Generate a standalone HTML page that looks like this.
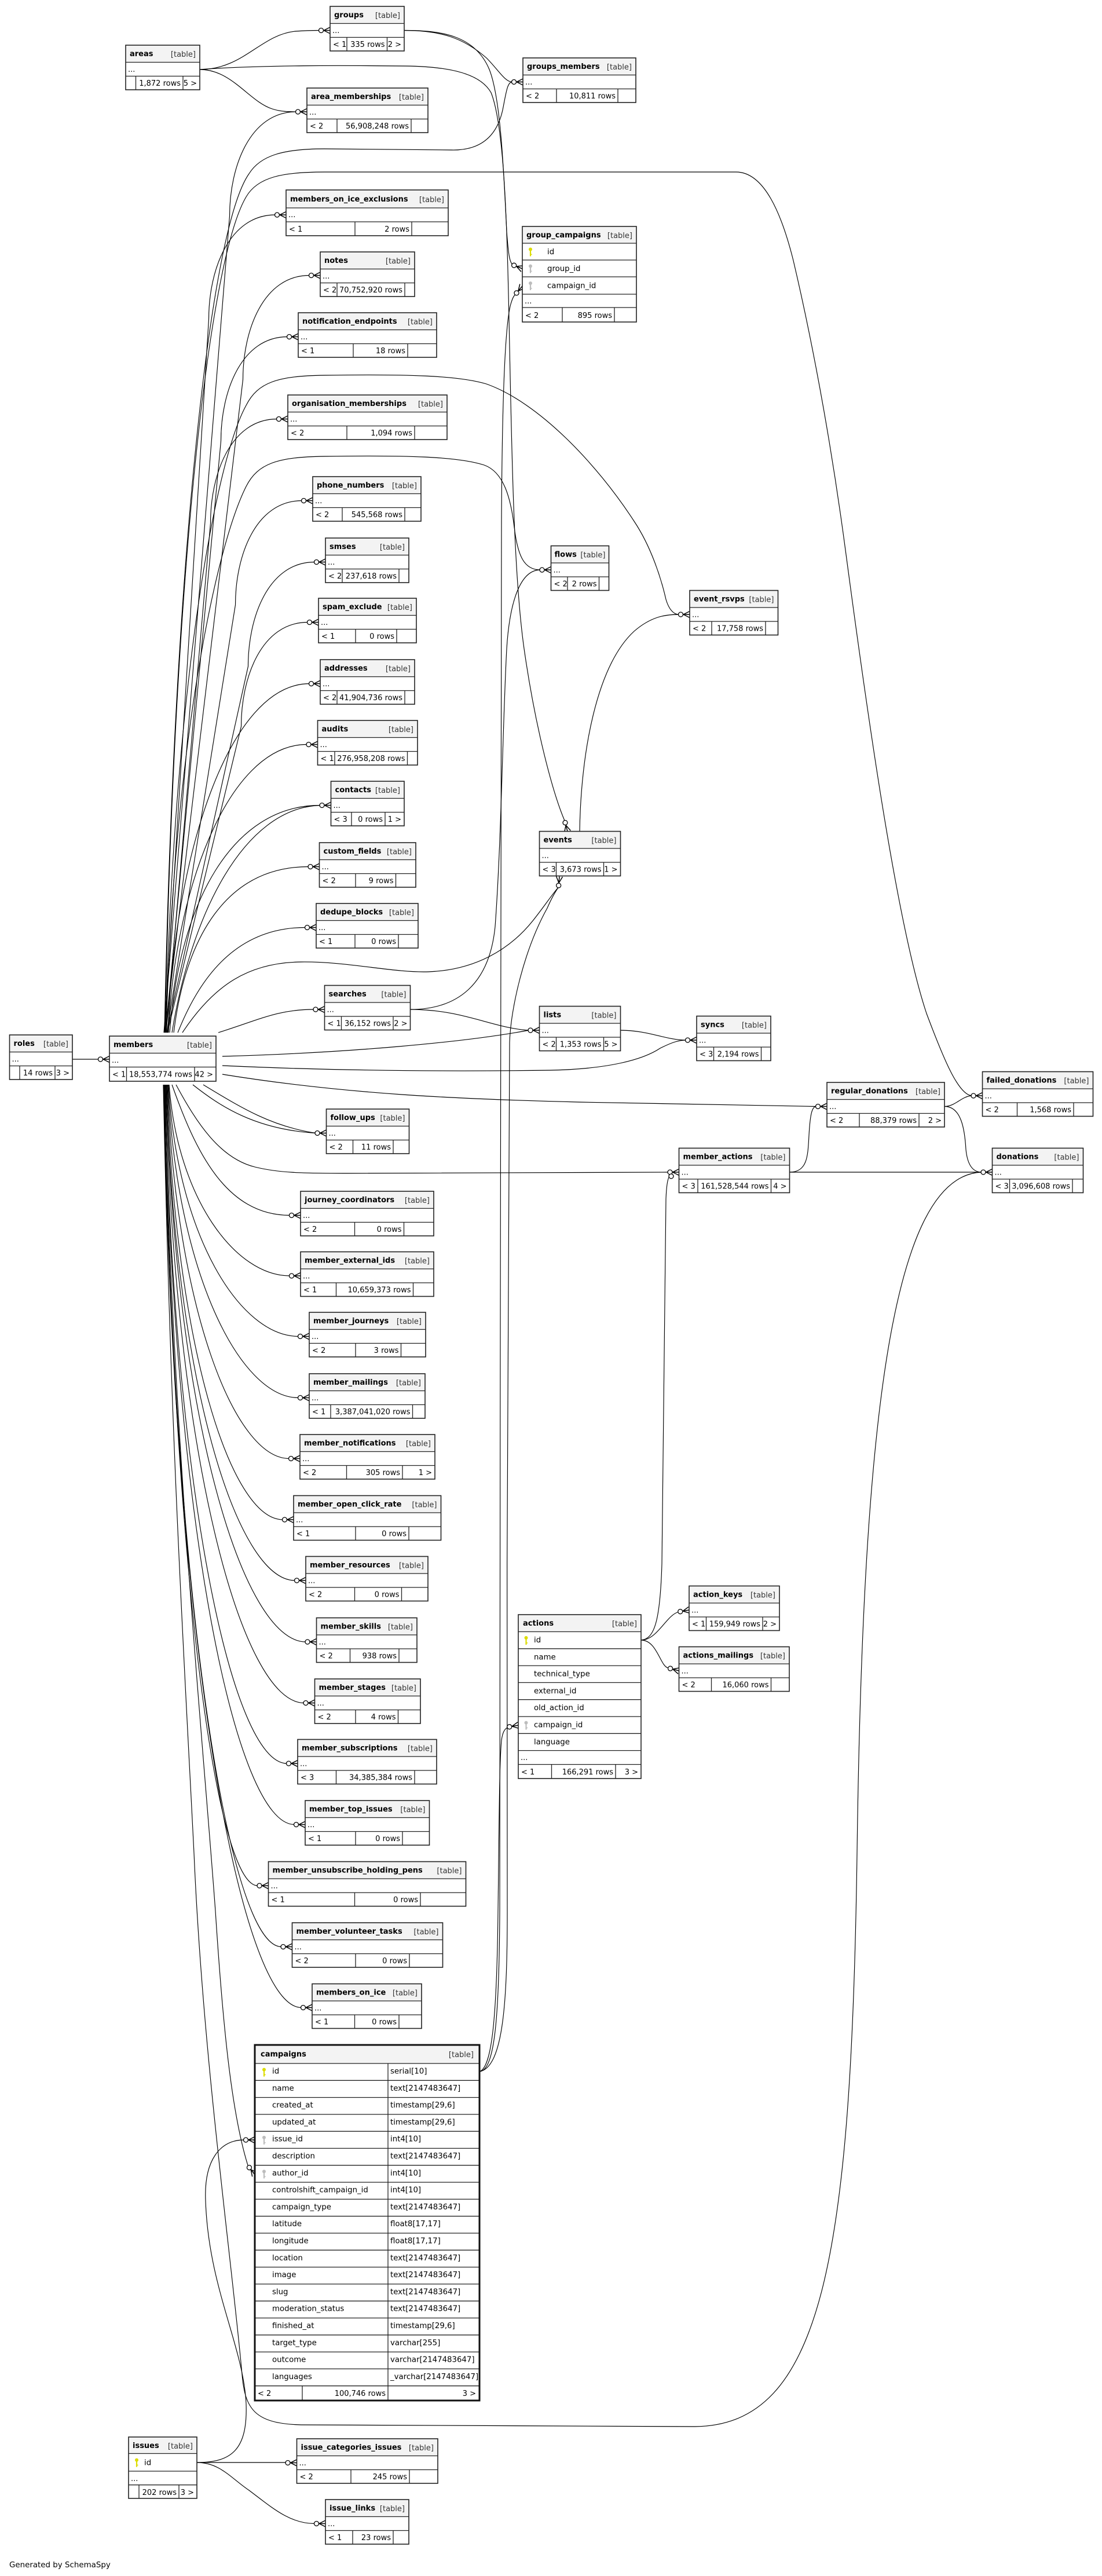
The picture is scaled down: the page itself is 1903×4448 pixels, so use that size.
<!DOCTYPE html>
<html><head><meta charset="utf-8">
<style>
html,body{margin:0;padding:0;background:#fff}
svg{display:block}
text{font-family:"DejaVu Sans","Liberation Sans",sans-serif;font-size:13px;fill:#000}
.n{font-weight:bold}
.t{fill:#333;text-anchor:end}
.e{text-anchor:end}
.c{font-size:13.3px}
.bg{fill:#fff}
.h{fill:#f3f3f3}
.i{fill:none;stroke:#222;stroke-width:1.3}
.o{fill:none;stroke:#222;stroke-width:1.6}
.w{fill:none;stroke:#000;stroke-width:1.15}
</style></head><body>
<svg xmlns="http://www.w3.org/2000/svg" xmlns:xlink="http://www.w3.org/1999/xlink" width="1903" height="4448" viewBox="0 0 1903 4448">
<defs>
<g id="cf"><path d="M-11 0L0-5.5M-11 0H0M-11 0L0 5.5" fill="none" stroke="#000" stroke-width="1.5"/><circle cx="-15.5" cy="0" r="4" fill="#fff" stroke="#000" stroke-width="1.3"/></g>
<g id="kp"><circle cx="0" cy="-4" r="3" fill="#dcdc00"/><rect x="-1.1" y="-2" width="2.2" height="10" fill="#dcdc00"/><rect x="0" y="4" width="2.6" height="1.6" fill="#dcdc00"/></g>
<g id="kf"><circle cx="0" cy="-4" r="3" fill="#bdbdbd"/><rect x="-1.1" y="-2" width="2.2" height="10" fill="#bdbdbd"/><rect x="0" y="4" width="2.6" height="1.6" fill="#bdbdbd"/></g>
</defs>

<!-- EDGES -->
<g class="w">
<path d="M125 1829H170.5"/>
<path d="M345 120C420 120 450 60 510 54C530 52.5 545 52.5 551.5 52.5"/>
<path d="M345 120C400 120 430 175 470 188C485 193 500 193 511.5 193"/>
<path d="M345 120C450 112 600 113 700 114C780 115 830 128 848 160C872 220 876 400 880 600C884 800 888 1000 905 1120C925 1260 955 1370 975 1417"/>
<path d="M698 52.5C760 52.5 800 65 840 100C860 120 872 141.5 884.5 141.5"/>
<path d="M698 52.5C760 52.5 820 60 845 120C865 170 870 300 875 400C878 440 880 452 885 457"/>
<path d="M284 1783C300 1000 360 400 430 300C450 268 490 257 560 257L780 259C830 260 858 235 868 190C874 160 876 141.5 884.5 141.5"/>
<path d="M285 1783C300 1000 360 450 425 340C445 305 490 297 560 297L1271 297C1320 297 1350 370 1370 450C1410 620 1440 800 1460 950C1500 1250 1550 1600 1600 1750C1630 1830 1655 1890 1678 1892"/>
<path d="M286 1783C300 1200 370 800 425 700C445 660 480 649 560 648C700 646 790 648 840 663C930 695 1030 800 1095 900C1125 945 1142 1000 1150 1035C1155 1052 1163 1061 1172.5 1061"/>
<path d="M287 1783C300 1300 370 950 425 840C445 800 480 789 560 788C700 786 790 788 836 803C870 815 882 860 888 910C894 960 905 984 933 984"/>
<path d="M1001 1435.5C1003 1300 1030 1150 1095 1090C1125 1064 1150 1061 1172.5 1061"/>
<path d="M315 1783C370 1700 430 1662 520 1661C600 1660 680 1680 740 1678C820 1675 880 1640 920 1590C940 1565 955 1542 964.4 1532"/>
<path d="M828 3577C870 3570 876 3450 876 3300C876 2800 874 2300 880 1800C882 1740 905 1640 945 1568C952 1552 958 1541 964.4 1532"/>
<path d="M828 3577C855 3575 862 3480 863 3300C864 2500 864 1500 866 900C867 700 872 560 882 525C885 515 887 511 890 508.5"/>
<path d="M828 3577C850 3570 858 3480 860 3300C862 3150 862 3050 866 3005C868 2990 872 2985 877 2982.5"/>
<path d="M708.5 1743C800 1743 850 1775 913 1779"/>
<path d="M708.5 1743C790 1743 845 1700 855 1600C866 1450 868 1250 875 1120C880 1040 898 984 933 984"/>
<path d="M1071.5 1779C1120 1779 1150 1796 1184.5 1796"/>
<path d="M384 1824C600 1818 800 1800 913 1779"/>
<path d="M384 1840C600 1850 800 1850 950 1848C1050 1846 1110 1830 1140 1810C1160 1800 1172 1796 1184.5 1796"/>
<path d="M384 1855C600 1890 800 1898 1000 1903L1409.5 1910.5"/>
<path d="M304 1873C340 1940 380 2000 440 2015C480 2025 520 2026 600 2026L1154 2024"/>
<path d="M1363.5 2024C1395 2024 1395 1995 1397 1960C1399 1925 1402 1910.5 1409.5 1910.5"/>
<path d="M1363.5 2024H1695"/>
<path d="M1631 1910.5C1650 1910.5 1660 1893 1678 1892"/>
<path d="M1631 1910.5C1660 1910.5 1666 1950 1668 1985C1671 2015 1682 2024 1695 2024"/>
<path d="M282 1873C295 2500 320 2900 335 3200C350 3550 400 3900 418 4100C423 4160 440 4185 520 4187L1200 4190C1420 4188 1470 3900 1480 3200C1490 2450 1540 2030 1695 2024"/>
<path d="M1107 2832C1130 2830 1140 2800 1143 2700C1146 2400 1148 2150 1150 2070C1151 2045 1153 2036 1155.5 2032"/>
<path d="M1107 2832C1135 2832 1150 2790 1171 2783.5"/>
<path d="M1107 2832C1135 2832 1140 2878 1154 2880"/>
<path d="M340 4252C400 4252 428 4230 425 4150C420 4050 360 3950 355 3800C352 3730 380 3695 421.5 3695"/>
<path d="M340 4252H494"/>
<path d="M340 4252C380 4252 400 4280 430 4300C470 4330 500 4357.5 543.5 4357.5"/>
<path d="M283 1873C300 2500 350 3000 372 3300C385 3500 400 3650 428.5 3740.5"/>
<path d="M333 1873C380 1910 440 1950 545 1956.5"/>
<path d="M351 1873C420 1915 470 1945 545 1956.5"/>
<path d="M293 1783C310 1560 400 1390.5 553 1390.5"/>
<path d="M297 1783C330 1580 420 1395 553 1390.5"/>
<path d="M300 1783C320 1620 390 1496.5 533 1496.5"/>
<path d="M307 1783C340 1700 400 1601.5 527.5 1601.5"/>
<path d="M291 1783C300 1550 390 1285.5 530 1285.5"/>
<path d="M290 1783C300 1480 395 1180.5 534.5 1180.5"/>
<path d="M283 1783L396.5 373C396.5 288 431.5 193 511.5 193"/>
<path d="M284 1783L360.5 551C360.5 466 395.5 371 475.5 371"/>
<path d="M285 1783L419.5 655.5C419.5 570.5 454.5 475.5 534.5 475.5"/>
<path d="M286 1783L381.5 761.5C381.5 676.5 416.5 581.5 496.5 581.5"/>
<path d="M287 1783L363.5 903.5C363.5 818.5 398.5 723.5 478.5 723.5"/>
<path d="M288 1783L406.5 1044.5C406.5 959.5 441.5 864.5 521.5 864.5"/>
<path d="M288 1783L428.5 1150.5C428.5 1065.5 463.5 970.5 543.5 970.5"/>
<path d="M289 1783L416.5 1254.5C416.5 1169.5 451.5 1074.5 531.5 1074.5"/>
<path d="M297 1873C337 1986 389 2098.5 500.5 2098.5"/>
<path d="M292 1873C307 2071 407 2203 500.5 2203"/>
<path d="M291 1873C306 2134 414.5 2307.5 515.5 2307.5"/>
<path d="M290 1873C305 2197 414 2413.5 515.5 2413.5"/>
<path d="M289 1873C304 2260 405 2518.5 499.5 2518.5"/>
<path d="M288 1873C303 2324 398 2624 488.5 2624"/>
<path d="M287 1873C302 2387 409 2729 509.5 2729"/>
<path d="M287 1873C302 2450 420 2835 528 2835"/>
<path d="M286 1873C301 2513 417.5 2940.5 525 2940.5"/>
<path d="M285 1873C300 2576 401 3045 495.5 3045"/>
<path d="M285 1873C300 2640 408 3150.5 508.5 3150.5"/>
<path d="M284 1873C299 2703 372.5 3256 445 3256"/>
<path d="M284 1873C299 2766 395 3361.5 486 3361.5"/>
<path d="M283 1873C298 2829 413.5 3466.5 520.5 3466.5"/>
<path d="M377 1783C450 1760 480 1743 542 1743"/>
</g>

<!-- CROW'S FEET -->
<use href="#cf" xlink:href="#cf" transform="translate(189,1829)"/>
<use href="#cf" xlink:href="#cf" transform="translate(570,52.5)"/>
<use href="#cf" xlink:href="#cf" transform="translate(530,193)"/>
<use href="#cf" xlink:href="#cf" transform="translate(903,141.5)"/>
<use href="#cf" xlink:href="#cf" transform="translate(902,464) rotate(22)"/>
<use href="#cf" xlink:href="#cf" transform="translate(902,494) rotate(-50)"/>
<use href="#cf" xlink:href="#cf" transform="translate(494,371)"/>
<use href="#cf" xlink:href="#cf" transform="translate(553,475.5)"/>
<use href="#cf" xlink:href="#cf" transform="translate(515,581.5)"/>
<use href="#cf" xlink:href="#cf" transform="translate(497,723.5)"/>
<use href="#cf" xlink:href="#cf" transform="translate(540,864.5)"/>
<use href="#cf" xlink:href="#cf" transform="translate(562,970.5)"/>
<use href="#cf" xlink:href="#cf" transform="translate(550,1074.5)"/>
<use href="#cf" xlink:href="#cf" transform="translate(553,1180.5)"/>
<use href="#cf" xlink:href="#cf" transform="translate(548.5,1285.5)"/>
<use href="#cf" xlink:href="#cf" transform="translate(571.5,1390.5)"/>
<use href="#cf" xlink:href="#cf" transform="translate(551.5,1496.5)"/>
<use href="#cf" xlink:href="#cf" transform="translate(546,1601.5)"/>
<use href="#cf" xlink:href="#cf" transform="translate(560.5,1743)"/>
<use href="#cf" xlink:href="#cf" transform="translate(951.5,984)"/>
<use href="#cf" xlink:href="#cf" transform="translate(1191,1061)"/>
<use href="#cf" xlink:href="#cf" transform="translate(980,1435.5) rotate(75)"/>
<use href="#cf" xlink:href="#cf" transform="translate(966,1513.5) rotate(-85)"/>
<use href="#cf" xlink:href="#cf" transform="translate(931.5,1779)"/>
<use href="#cf" xlink:href="#cf" transform="translate(1203,1796)"/>
<use href="#cf" xlink:href="#cf" transform="translate(1428,1910.5)"/>
<use href="#cf" xlink:href="#cf" transform="translate(1696.5,1892)"/>
<use href="#cf" xlink:href="#cf" transform="translate(1172.5,2024)"/>
<circle cx="1159" cy="2031" r="4" fill="#fff" stroke="#000" stroke-width="1.3"/>
<use href="#cf" xlink:href="#cf" transform="translate(1713.5,2024)"/>
<use href="#cf" xlink:href="#cf" transform="translate(563.5,1956.5)"/>
<use href="#cf" xlink:href="#cf" transform="translate(519,2098.5)"/>
<use href="#cf" xlink:href="#cf" transform="translate(519,2203)"/>
<use href="#cf" xlink:href="#cf" transform="translate(534,2307.5)"/>
<use href="#cf" xlink:href="#cf" transform="translate(534,2413.5)"/>
<use href="#cf" xlink:href="#cf" transform="translate(518,2518.5)"/>
<use href="#cf" xlink:href="#cf" transform="translate(507,2624)"/>
<use href="#cf" xlink:href="#cf" transform="translate(528,2729)"/>
<use href="#cf" xlink:href="#cf" transform="translate(546.5,2835)"/>
<use href="#cf" xlink:href="#cf" transform="translate(543.5,2940.5)"/>
<use href="#cf" xlink:href="#cf" transform="translate(514,3045)"/>
<use href="#cf" xlink:href="#cf" transform="translate(527,3150.5)"/>
<use href="#cf" xlink:href="#cf" transform="translate(463.5,3256)"/>
<use href="#cf" xlink:href="#cf" transform="translate(504.5,3361.5)"/>
<use href="#cf" xlink:href="#cf" transform="translate(539,3466.5)"/>
<use href="#cf" xlink:href="#cf" transform="translate(440,3755) rotate(52)"/>
<use href="#cf" xlink:href="#cf" transform="translate(440,3695)"/>
<use href="#cf" xlink:href="#cf" transform="translate(895,2979) rotate(-10)"/>
<use href="#cf" xlink:href="#cf" transform="translate(1190,2780) rotate(-10)"/>
<use href="#cf" xlink:href="#cf" transform="translate(1172.5,2885) rotate(15)"/>
<use href="#cf" xlink:href="#cf" transform="translate(512.5,4252.5)"/>
<use href="#cf" xlink:href="#cf" transform="translate(562,4357.5)"/>

<!-- SMALL TABLES -->
<g transform="translate(217,78)"><rect class="bg" width="128" height="77"/><rect class="h" width="128" height="29.5"/><path class="i" d="M0 29.5H128M0 53.5H128M17.5 53.5V77M99 53.5V77"/><rect class="o" width="128" height="77"/><text class="n" x="7" y="19">areas</text><text class="t" x="121" y="20">[table]</text><text x="4" y="46">...</text><text class="e" x="95" y="70">1,872 rows</text><text class="e" x="123" y="70">5 &gt;</text></g>

<g transform="translate(570,11)"><rect class="bg" width="128" height="77"/><rect class="h" width="128" height="29.5"/><path class="i" d="M0 29.5H128M0 53.5H128M29 53.5V77M98.5 53.5V77"/><rect class="o" width="128" height="77"/><text class="n" x="7" y="19">groups</text><text class="t" x="121" y="20">[table]</text><text x="4" y="46">...</text><text x="5" y="70">&lt; 1</text><text class="e" x="94.5" y="70">335 rows</text><text class="e" x="123" y="70">2 &gt;</text></g>

<g transform="translate(903,100)"><rect class="bg" width="195" height="77"/><rect class="h" width="195" height="29.5"/><path class="i" d="M0 29.5H195M0 53.5H195M58 53.5V77M164 53.5V77"/><rect class="o" width="195" height="77"/><text class="n" x="7" y="19">groups_members</text><text class="t" x="188" y="20">[table]</text><text x="4" y="46">...</text><text x="5" y="70">&lt; 2</text><text class="e" x="160" y="70">10,811 rows</text></g>

<g transform="translate(530,152)"><rect class="bg" width="209" height="77"/><rect class="h" width="209" height="29.5"/><path class="i" d="M0 29.5H209M0 53.5H209M52 53.5V77M180 53.5V77"/><rect class="o" width="209" height="77"/><text class="n" x="7" y="19">area_memberships</text><text class="t" x="202" y="20">[table]</text><text x="4" y="46">...</text><text x="5" y="70">&lt; 2</text><text class="e" x="176" y="70">56,908,248 rows</text></g>

<g transform="translate(494,328)"><rect class="bg" width="280" height="79"/><rect class="h" width="280" height="31"/><path class="i" d="M0 31H280M0 55H280M119 55V79M217 55V79"/><rect class="o" width="280" height="79"/><text class="n" x="7" y="20">members_on_ice_exclusions</text><text class="t" x="273" y="21">[table]</text><text x="4" y="47">...</text><text x="5" y="72">&lt; 1</text><text class="e" x="213" y="72">2 rows</text></g>

<g transform="translate(553,435)"><rect class="bg" width="163" height="77"/><rect class="h" width="163" height="29.5"/><path class="i" d="M0 29.5H163M0 53.5H163M29 53.5V77M146 53.5V77"/><rect class="o" width="163" height="77"/><text class="n" x="7" y="19">notes</text><text class="t" x="156" y="20">[table]</text><text x="4" y="46">...</text><text x="5" y="70">&lt; 2</text><text class="e" x="142" y="70">70,752,920 rows</text></g>

<g transform="translate(515,540)"><rect class="bg" width="239" height="77"/><rect class="h" width="239" height="29.5"/><path class="i" d="M0 29.5H239M0 53.5H239M95 53.5V77M189 53.5V77"/><rect class="o" width="239" height="77"/><text class="n" x="7" y="19">notification_endpoints</text><text class="t" x="232" y="20">[table]</text><text x="4" y="46">...</text><text x="5" y="70">&lt; 1</text><text class="e" x="185" y="70">18 rows</text></g>

<g transform="translate(497,682)"><rect class="bg" width="275" height="77"/><rect class="h" width="275" height="29.5"/><path class="i" d="M0 29.5H275M0 53.5H275M102 53.5V77M219 53.5V77"/><rect class="o" width="275" height="77"/><text class="n" x="7" y="19">organisation_memberships</text><text class="t" x="268" y="20">[table]</text><text x="4" y="46">...</text><text x="5" y="70">&lt; 2</text><text class="e" x="215" y="70">1,094 rows</text></g>

<g transform="translate(540,823)"><rect class="bg" width="187" height="77"/><rect class="h" width="187" height="29.5"/><path class="i" d="M0 29.5H187M0 53.5H187M51 53.5V77M159 53.5V77"/><rect class="o" width="187" height="77"/><text class="n" x="7" y="19">phone_numbers</text><text class="t" x="180" y="20">[table]</text><text x="4" y="46">...</text><text x="5" y="70">&lt; 2</text><text class="e" x="155" y="70">545,568 rows</text></g>

<g transform="translate(562,929)"><rect class="bg" width="144" height="77"/><rect class="h" width="144" height="29.5"/><path class="i" d="M0 29.5H144M0 53.5H144M29 53.5V77M127 53.5V77"/><rect class="o" width="144" height="77"/><text class="n" x="7" y="19">smses</text><text class="t" x="137" y="20">[table]</text><text x="4" y="46">...</text><text x="5" y="70">&lt; 2</text><text class="e" x="123" y="70">237,618 rows</text></g>

<g transform="translate(550,1033)"><rect class="bg" width="169" height="77"/><rect class="h" width="169" height="29.5"/><path class="i" d="M0 29.5H169M0 53.5H169M64 53.5V77M135 53.5V77"/><rect class="o" width="169" height="77"/><text class="n" x="7" y="19">spam_exclude</text><text class="t" x="162" y="20">[table]</text><text x="4" y="46">...</text><text x="5" y="70">&lt; 1</text><text class="e" x="131" y="70">0 rows</text></g>

<g transform="translate(553,1139)"><rect class="bg" width="163" height="77"/><rect class="h" width="163" height="29.5"/><path class="i" d="M0 29.5H163M0 53.5H163M29 53.5V77M146 53.5V77"/><rect class="o" width="163" height="77"/><text class="n" x="7" y="19">addresses</text><text class="t" x="156" y="20">[table]</text><text x="4" y="46">...</text><text x="5" y="70">&lt; 2</text><text class="e" x="142" y="70">41,904,736 rows</text></g>

<g transform="translate(548.5,1244)"><rect class="bg" width="172.5" height="77"/><rect class="h" width="172.5" height="29.5"/><path class="i" d="M0 29.5H172.5M0 53.5H172.5M29.5 53.5V77M155 53.5V77"/><rect class="o" width="172.5" height="77"/><text class="n" x="7" y="19">audits</text><text class="t" x="165.5" y="20">[table]</text><text x="4" y="46">...</text><text x="5" y="70">&lt; 1</text><text class="e" x="151" y="70">276,958,208 rows</text></g>

<g transform="translate(571.5,1349)"><rect class="bg" width="126.5" height="77"/><rect class="h" width="126.5" height="29.5"/><path class="i" d="M0 29.5H126.5M0 53.5H126.5M35.5 53.5V77M93.5 53.5V77"/><rect class="o" width="126.5" height="77"/><text class="n" x="7" y="19">contacts</text><text class="t" x="119.5" y="20">[table]</text><text x="4" y="46">...</text><text x="5" y="70">&lt; 3</text><text class="e" x="89.5" y="70">0 rows</text><text class="e" x="121.5" y="70">1 &gt;</text></g>

<g transform="translate(551.5,1455)"><rect class="bg" width="166.5" height="77"/><rect class="h" width="166.5" height="29.5"/><path class="i" d="M0 29.5H166.5M0 53.5H166.5M62.5 53.5V77M132 53.5V77"/><rect class="o" width="166.5" height="77"/><text class="n" x="7" y="19">custom_fields</text><text class="t" x="159.5" y="20">[table]</text><text x="4" y="46">...</text><text x="5" y="70">&lt; 2</text><text class="e" x="128" y="70">9 rows</text></g>

<g transform="translate(546,1560)"><rect class="bg" width="176" height="77"/><rect class="h" width="176" height="29.5"/><path class="i" d="M0 29.5H176M0 53.5H176M67 53.5V77M142 53.5V77"/><rect class="o" width="176" height="77"/><text class="n" x="7" y="19">dedupe_blocks</text><text class="t" x="169" y="20">[table]</text><text x="4" y="46">...</text><text x="5" y="70">&lt; 1</text><text class="e" x="138" y="70">0 rows</text></g>

<g transform="translate(560.5,1701.5)"><rect class="bg" width="148" height="77"/><rect class="h" width="148" height="29.5"/><path class="i" d="M0 29.5H148M0 53.5H148M29 53.5V77M118.5 53.5V77"/><rect class="o" width="148" height="77"/><text class="n" x="7" y="19">searches</text><text class="t" x="141" y="20">[table]</text><text x="4" y="46">...</text><text x="5" y="70">&lt; 1</text><text class="e" x="114.5" y="70">36,152 rows</text><text class="e" x="143" y="70">2 &gt;</text></g>

<g transform="translate(16.5,1787)"><rect class="bg" width="108.5" height="77"/><rect class="h" width="108.5" height="29.5"/><path class="i" d="M0 29.5H108.5M0 53.5H108.5M17.5 53.5V77M78.5 53.5V77"/><rect class="o" width="108.5" height="77"/><text class="n" x="7" y="19">roles</text><text class="t" x="101.5" y="20">[table]</text><text x="4" y="46">...</text><text class="e" x="74.5" y="70">14 rows</text><text class="e" x="103.5" y="70">3 &gt;</text></g>

<g transform="translate(189,1789)"><rect class="bg" width="184" height="78"/><rect class="h" width="184" height="29.5"/><path class="i" d="M0 29.5H184M0 53.5H184M29.5 53.5V78M147 53.5V78"/><rect class="o" width="184" height="78"/><text class="n" x="7" y="19">members</text><text class="t" x="177" y="20">[table]</text><text x="4" y="46">...</text><text x="5" y="70.5">&lt; 1</text><text class="e" x="143" y="70.5">18,553,774 rows</text><text class="e" x="179" y="70.5">42 &gt;</text></g>

<g transform="translate(563.5,1915)"><rect class="bg" width="143" height="77"/><rect class="h" width="143" height="29.5"/><path class="i" d="M0 29.5H143M0 53.5H143M46 53.5V77M115.5 53.5V77"/><rect class="o" width="143" height="77"/><text class="n" x="7" y="19">follow_ups</text><text class="t" x="136" y="20">[table]</text><text x="4" y="46">...</text><text x="5" y="70">&lt; 2</text><text class="e" x="111.5" y="70">11 rows</text></g>

<g transform="translate(519,2057)"><rect class="bg" width="230" height="77"/><rect class="h" width="230" height="29.5"/><path class="i" d="M0 29.5H230M0 53.5H230M93.5 53.5V77M178.5 53.5V77"/><rect class="o" width="230" height="77"/><text class="n" x="7" y="19">journey_coordinators</text><text class="t" x="223" y="20">[table]</text><text x="4" y="46">...</text><text x="5" y="70">&lt; 2</text><text class="e" x="174.5" y="70">0 rows</text></g>

<g transform="translate(519,2161.5)"><rect class="bg" width="230" height="77"/><rect class="h" width="230" height="29.5"/><path class="i" d="M0 29.5H230M0 53.5H230M61.5 53.5V77M194.5 53.5V77"/><rect class="o" width="230" height="77"/><text class="n" x="7" y="19">member_external_ids</text><text class="t" x="223" y="20">[table]</text><text x="4" y="46">...</text><text x="5" y="70">&lt; 1</text><text class="e" x="190.5" y="70">10,659,373 rows</text></g>

<g transform="translate(534,2266)"><rect class="bg" width="201" height="77"/><rect class="h" width="201" height="29.5"/><path class="i" d="M0 29.5H201M0 53.5H201M80 53.5V77M158.5 53.5V77"/><rect class="o" width="201" height="77"/><text class="n" x="7" y="19">member_journeys</text><text class="t" x="194" y="20">[table]</text><text x="4" y="46">...</text><text x="5" y="70">&lt; 2</text><text class="e" x="154.5" y="70">3 rows</text></g>

<g transform="translate(534,2372)"><rect class="bg" width="200" height="77"/><rect class="h" width="200" height="29.5"/><path class="i" d="M0 29.5H200M0 53.5H200M37 53.5V77M178.5 53.5V77"/><rect class="o" width="200" height="77"/><text class="n" x="7" y="19">member_mailings</text><text class="t" x="193" y="20">[table]</text><text x="4" y="46">...</text><text x="5" y="70">&lt; 1</text><text class="e" x="174.5" y="70">3,387,041,020 rows</text></g>

<g transform="translate(518,2477)"><rect class="bg" width="233" height="77"/><rect class="h" width="233" height="29.5"/><path class="i" d="M0 29.5H233M0 53.5H233M80.5 53.5V77M177 53.5V77"/><rect class="o" width="233" height="77"/><text class="n" x="7" y="19">member_notifications</text><text class="t" x="226" y="20">[table]</text><text x="4" y="46">...</text><text x="5" y="70">&lt; 2</text><text class="e" x="173" y="70">305 rows</text><text class="e" x="228" y="70">1 &gt;</text></g>

<g transform="translate(507,2582.5)"><rect class="bg" width="254.5" height="77"/><rect class="h" width="254.5" height="29.5"/><path class="i" d="M0 29.5H254.5M0 53.5H254.5M107 53.5V77M199 53.5V77"/><rect class="o" width="254.5" height="77"/><text class="n" x="7" y="19">member_open_click_rate</text><text class="t" x="247.5" y="20">[table]</text><text x="4" y="46">...</text><text x="5" y="70">&lt; 1</text><text class="e" x="195" y="70">0 rows</text></g>

<g transform="translate(528,2687.5)"><rect class="bg" width="211" height="77"/><rect class="h" width="211" height="29.5"/><path class="i" d="M0 29.5H211M0 53.5H211M84.5 53.5V77M165.5 53.5V77"/><rect class="o" width="211" height="77"/><text class="n" x="7" y="19">member_resources</text><text class="t" x="204" y="20">[table]</text><text x="4" y="46">...</text><text x="5" y="70">&lt; 2</text><text class="e" x="161.5" y="70">0 rows</text></g>

<g transform="translate(546.5,2793.5)"><rect class="bg" width="173.5" height="77"/><rect class="h" width="173.5" height="29.5"/><path class="i" d="M0 29.5H173.5M0 53.5H173.5M58 53.5V77M142.5 53.5V77"/><rect class="o" width="173.5" height="77"/><text class="n" x="7" y="19">member_skills</text><text class="t" x="166.5" y="20">[table]</text><text x="4" y="46">...</text><text x="5" y="70">&lt; 2</text><text class="e" x="138.5" y="70">938 rows</text></g>

<g transform="translate(543.5,2899)"><rect class="bg" width="182.5" height="77"/><rect class="h" width="182.5" height="29.5"/><path class="i" d="M0 29.5H182.5M0 53.5H182.5M70.5 53.5V77M144 53.5V77"/><rect class="o" width="182.5" height="77"/><text class="n" x="7" y="19">member_stages</text><text class="t" x="175.5" y="20">[table]</text><text x="4" y="46">...</text><text x="5" y="70">&lt; 2</text><text class="e" x="140" y="70">4 rows</text></g>

<g transform="translate(514,3003.5)"><rect class="bg" width="240" height="77"/><rect class="h" width="240" height="29.5"/><path class="i" d="M0 29.5H240M0 53.5H240M66.5 53.5V77M202 53.5V77"/><rect class="o" width="240" height="77"/><text class="n" x="7" y="19">member_subscriptions</text><text class="t" x="233" y="20">[table]</text><text x="4" y="46">...</text><text x="5" y="70">&lt; 3</text><text class="e" x="198" y="70">34,385,384 rows</text></g>

<g transform="translate(527,3109)"><rect class="bg" width="214.5" height="77"/><rect class="h" width="214.5" height="29.5"/><path class="i" d="M0 29.5H214.5M0 53.5H214.5M87 53.5V77M168 53.5V77"/><rect class="o" width="214.5" height="77"/><text class="n" x="7" y="19">member_top_issues</text><text class="t" x="207.5" y="20">[table]</text><text x="4" y="46">...</text><text x="5" y="70">&lt; 1</text><text class="e" x="164" y="70">0 rows</text></g>

<g transform="translate(463.5,3214.5)"><rect class="bg" width="341" height="77"/><rect class="h" width="341" height="29.5"/><path class="i" d="M0 29.5H341M0 53.5H341M149 53.5V77M262.5 53.5V77"/><rect class="o" width="341" height="77"/><text class="n" x="7" y="19">member_unsubscribe_holding_pens</text><text class="t" x="334" y="20">[table]</text><text x="4" y="46">...</text><text x="5" y="70">&lt; 1</text><text class="e" x="258.5" y="70">0 rows</text></g>

<g transform="translate(504.5,3320)"><rect class="bg" width="260" height="77"/><rect class="h" width="260" height="29.5"/><path class="i" d="M0 29.5H260M0 53.5H260M109.5 53.5V77M202.5 53.5V77"/><rect class="o" width="260" height="77"/><text class="n" x="7" y="19">member_volunteer_tasks</text><text class="t" x="253" y="20">[table]</text><text x="4" y="46">...</text><text x="5" y="70">&lt; 2</text><text class="e" x="198.5" y="70">0 rows</text></g>

<g transform="translate(539,3425.5)"><rect class="bg" width="189" height="77"/><rect class="h" width="189" height="29.5"/><path class="i" d="M0 29.5H189M0 53.5H189M73.5 53.5V77M150 53.5V77"/><rect class="o" width="189" height="77"/><text class="n" x="7" y="19">members_on_ice</text><text class="t" x="182" y="20">[table]</text><text x="4" y="46">...</text><text x="5" y="70">&lt; 1</text><text class="e" x="146" y="70">0 rows</text></g>

<g transform="translate(512.5,4211)"><rect class="bg" width="243.5" height="77"/><rect class="h" width="243.5" height="29.5"/><path class="i" d="M0 29.5H243.5M0 53.5H243.5M93.5 53.5V77M194.5 53.5V77"/><rect class="o" width="243.5" height="77"/><text class="n" x="7" y="19">issue_categories_issues</text><text class="t" x="236.5" y="20">[table]</text><text x="4" y="46">...</text><text x="5" y="70">&lt; 2</text><text class="e" x="190.5" y="70">245 rows</text></g>

<g transform="translate(562,4316)"><rect class="bg" width="144" height="77"/><rect class="h" width="144" height="29.5"/><path class="i" d="M0 29.5H144M0 53.5H144M47 53.5V77M117 53.5V77"/><rect class="o" width="144" height="77"/><text class="n" x="7" y="19">issue_links</text><text class="t" x="137" y="20">[table]</text><text x="4" y="46">...</text><text x="5" y="70">&lt; 1</text><text class="e" x="113" y="70">23 rows</text></g>

<g transform="translate(951.5,942.5)"><rect class="bg" width="100" height="77"/><rect class="h" width="100" height="29.5"/><path class="i" d="M0 29.5H100M0 53.5H100M28.5 53.5V77M83 53.5V77"/><rect class="o" width="100" height="77"/><text class="n" x="6" y="19">flows</text><text class="t" x="94" y="20">[table]</text><text x="4" y="46">...</text><text x="5" y="70">&lt; 2</text><text class="e" x="79" y="70">2 rows</text></g>

<g transform="translate(1191,1019.5)"><rect class="bg" width="152.5" height="77"/><rect class="h" width="152.5" height="29.5"/><path class="i" d="M0 29.5H152.5M0 53.5H152.5M38 53.5V77M131 53.5V77"/><rect class="o" width="152.5" height="77"/><text class="n" x="7" y="19">event_rsvps</text><text class="t" x="145.5" y="20">[table]</text><text x="4" y="46">...</text><text x="5" y="70">&lt; 2</text><text class="e" x="127" y="70">17,758 rows</text></g>

<g transform="translate(931.5,1435.5)"><rect class="bg" width="140" height="77"/><rect class="h" width="140" height="29.5"/><path class="i" d="M0 29.5H140M0 53.5H140M29 53.5V77M111 53.5V77"/><rect class="o" width="140" height="77"/><text class="n" x="7" y="19">events</text><text class="t" x="133" y="20">[table]</text><text x="4" y="46">...</text><text x="5" y="70">&lt; 3</text><text class="e" x="107" y="70">3,673 rows</text><text class="e" x="135" y="70">1 &gt;</text></g>

<g transform="translate(931.5,1737.5)"><rect class="bg" width="140" height="77"/><rect class="h" width="140" height="29.5"/><path class="i" d="M0 29.5H140M0 53.5H140M29 53.5V77M111 53.5V77"/><rect class="o" width="140" height="77"/><text class="n" x="7" y="19">lists</text><text class="t" x="133" y="20">[table]</text><text x="4" y="46">...</text><text x="5" y="70">&lt; 2</text><text class="e" x="107" y="70">1,353 rows</text><text class="e" x="135" y="70">5 &gt;</text></g>

<g transform="translate(1203,1754.5)"><rect class="bg" width="128" height="77"/><rect class="h" width="128" height="29.5"/><path class="i" d="M0 29.5H128M0 53.5H128M29.5 53.5V77M111.5 53.5V77"/><rect class="o" width="128" height="77"/><text class="n" x="7" y="19">syncs</text><text class="t" x="121" y="20">[table]</text><text x="4" y="46">...</text><text x="5" y="70">&lt; 3</text><text class="e" x="107.5" y="70">2,194 rows</text></g>

<g transform="translate(1428,1869)"><rect class="bg" width="203" height="77"/><rect class="h" width="203" height="29.5"/><path class="i" d="M0 29.5H203M0 53.5H203M56 53.5V77M159 53.5V77"/><rect class="o" width="203" height="77"/><text class="n" x="7" y="19">regular_donations</text><text class="t" x="196" y="20">[table]</text><text x="4" y="46">...</text><text x="5" y="70">&lt; 2</text><text class="e" x="155" y="70">88,379 rows</text><text class="e" x="198" y="70">2 &gt;</text></g>

<g transform="translate(1696.5,1850.5)"><rect class="bg" width="191" height="77"/><rect class="h" width="191" height="29.5"/><path class="i" d="M0 29.5H191M0 53.5H191M60 53.5V77M157.5 53.5V77"/><rect class="o" width="191" height="77"/><text class="n" x="7" y="19">failed_donations</text><text class="t" x="184" y="20">[table]</text><text x="4" y="46">...</text><text x="5" y="70">&lt; 2</text><text class="e" x="153.5" y="70">1,568 rows</text></g>

<g transform="translate(1172.5,1982.5)"><rect class="bg" width="191" height="77"/><rect class="h" width="191" height="29.5"/><path class="i" d="M0 29.5H191M0 53.5H191M32.5 53.5V77M159 53.5V77"/><rect class="o" width="191" height="77"/><text class="n" x="7" y="19">member_actions</text><text class="t" x="184" y="20">[table]</text><text x="4" y="46">...</text><text x="5" y="70">&lt; 3</text><text class="e" x="155" y="70">161,528,544 rows</text><text class="e" x="186" y="70">4 &gt;</text></g>

<g transform="translate(1713.5,1982.5)"><rect class="bg" width="157" height="77"/><rect class="h" width="157" height="29.5"/><path class="i" d="M0 29.5H157M0 53.5H157M30 53.5V77M138.5 53.5V77"/><rect class="o" width="157" height="77"/><text class="n" x="7" y="19">donations</text><text class="t" x="150" y="20">[table]</text><text x="4" y="46">...</text><text x="5" y="70">&lt; 3</text><text class="e" x="134.5" y="70">3,096,608 rows</text></g>

<g transform="translate(1190,2738.5)"><rect class="bg" width="156" height="77"/><rect class="h" width="156" height="29.5"/><path class="i" d="M0 29.5H156M0 53.5H156M29.5 53.5V77M127 53.5V77"/><rect class="o" width="156" height="77"/><text class="n" x="7" y="19">action_keys</text><text class="t" x="149" y="20">[table]</text><text x="4" y="46">...</text><text x="5" y="70">&lt; 1</text><text class="e" x="123" y="70">159,949 rows</text><text class="e" x="151" y="70">2 &gt;</text></g>

<g transform="translate(1172.5,2843.5)"><rect class="bg" width="190.5" height="77"/><rect class="h" width="190.5" height="29.5"/><path class="i" d="M0 29.5H190.5M0 53.5H190.5M56 53.5V77M159 53.5V77"/><rect class="o" width="190.5" height="77"/><text class="n" x="7" y="19">actions_mailings</text><text class="t" x="183.5" y="20">[table]</text><text x="4" y="46">...</text><text x="5" y="70">&lt; 2</text><text class="e" x="155" y="70">16,060 rows</text></g>

<!-- DETAILED TABLES -->
<g transform="translate(902,391)"><rect class="bg" width="197" height="165"/><rect class="h" width="197" height="29"/><path class="i" d="M0 29H197M0 58H197M0 87H197M0 117H197M0 140H197M69 140V165M159 140V165"/><rect class="o" width="197" height="165"/><text class="n" x="7" y="19">group_campaigns</text><text class="t" x="190" y="20">[table]</text>
<use href="#kp" xlink:href="#kp" x="14" y="43.5"/><use href="#kf" xlink:href="#kf" x="14" y="72.5"/><use href="#kf" xlink:href="#kf" x="14" y="102"/>
<text class="c" x="43" y="48">id</text><text class="c" x="43" y="77">group_id</text><text class="c" x="43" y="106.5">campaign_id</text>
<text x="4" y="133">...</text><text x="5" y="158">&lt; 2</text><text class="e" x="155" y="158">895 rows</text></g>

<g transform="translate(895,2788)"><rect class="bg" width="212" height="283"/><rect class="h" width="212" height="29.5"/><path class="i" d="M0 29.5H212M0 58.8H212M0 88.1H212M0 117.4H212M0 146.7H212M0 176H212M0 205.3H212M0 234.6H212M0 258.6H212M57.5 258.6V283M168 258.6V283"/><rect class="o" width="212" height="283"/><text class="n" x="8" y="19">actions</text><text class="t" x="205" y="20">[table]</text>
<use href="#kp" xlink:href="#kp" x="13.5" y="44"/><use href="#kf" xlink:href="#kf" x="13.5" y="190.6"/>
<text class="c" x="27" y="48">id</text><text class="c" x="27" y="77.3">name</text><text class="c" x="27" y="106.6">technical_type</text><text class="c" x="27" y="135.9">external_id</text><text class="c" x="27" y="165.2">old_action_id</text><text class="c" x="27" y="194.5">campaign_id</text><text class="c" x="27" y="223.8">language</text>
<text x="4" y="251">...</text><text x="5" y="276">&lt; 1</text><text class="e" x="164" y="276">166,291 rows</text><text class="e" x="207" y="276">3 &gt;</text></g>

<g transform="translate(440,3531)"><rect class="bg" width="388" height="614"/><rect class="h" width="388" height="32"/><path class="i" d="M0 32H388M0 61.3H388M0 90.6H388M0 119.9H388M0 149.2H388M0 178.5H388M0 207.8H388M0 237.1H388M0 266.4H388M0 295.7H388M0 325H388M0 354.3H388M0 383.6H388M0 412.9H388M0 442.2H388M0 471.5H388M0 500.8H388M0 530.1H388M0 559.4H388M0 588.7H388M230 32V614M82 588.7V614"/><rect width="388" height="614" fill="none" stroke="#111" stroke-width="3"/>
<text class="n" x="10" y="20">campaigns</text><text class="t" x="378" y="21">[table]</text>
<use href="#kp" xlink:href="#kp" x="16" y="46.6"/><use href="#kf" xlink:href="#kf" x="16" y="163.9"/><use href="#kf" xlink:href="#kf" x="16" y="222.5"/>
<text class="c" x="30" y="49.5">id</text><text class="c" x="234" y="49.5">serial[10]</text>
<text class="c" x="30" y="78.8">name</text><text class="c" x="234" y="78.8">text[2147483647]</text>
<text class="c" x="30" y="108.1">created_at</text><text class="c" x="234" y="108.1">timestamp[29,6]</text>
<text class="c" x="30" y="137.4">updated_at</text><text class="c" x="234" y="137.4">timestamp[29,6]</text>
<text class="c" x="30" y="166.7">issue_id</text><text class="c" x="234" y="166.7">int4[10]</text>
<text class="c" x="30" y="196">description</text><text class="c" x="234" y="196">text[2147483647]</text>
<text class="c" x="30" y="225.3">author_id</text><text class="c" x="234" y="225.3">int4[10]</text>
<text class="c" x="30" y="254.6">controlshift_campaign_id</text><text class="c" x="234" y="254.6">int4[10]</text>
<text class="c" x="30" y="283.9">campaign_type</text><text class="c" x="234" y="283.9">text[2147483647]</text>
<text class="c" x="30" y="313.2">latitude</text><text class="c" x="234" y="313.2">float8[17,17]</text>
<text class="c" x="30" y="342.5">longitude</text><text class="c" x="234" y="342.5">float8[17,17]</text>
<text class="c" x="30" y="371.8">location</text><text class="c" x="234" y="371.8">text[2147483647]</text>
<text class="c" x="30" y="401.1">image</text><text class="c" x="234" y="401.1">text[2147483647]</text>
<text class="c" x="30" y="430.4">slug</text><text class="c" x="234" y="430.4">text[2147483647]</text>
<text class="c" x="30" y="459.7">moderation_status</text><text class="c" x="234" y="459.7">text[2147483647]</text>
<text class="c" x="30" y="489">finished_at</text><text class="c" x="234" y="489">timestamp[29,6]</text>
<text class="c" x="30" y="518.3">target_type</text><text class="c" x="234" y="518.3">varchar[255]</text>
<text class="c" x="30" y="547.6">outcome</text><text class="c" x="234" y="547.6">varchar[2147483647]</text>
<text class="c" x="30" y="576.9">languages</text><text class="c" x="234" y="576.9">_varchar[2147483647]</text>
<text x="5" y="606">&lt; 2</text><text class="e" x="226" y="606">100,746 rows</text><text class="e" x="382" y="606">3 &gt;</text></g>

<g transform="translate(222,4208)"><rect class="bg" width="118" height="106"/><rect class="h" width="118" height="28.5"/><path class="i" d="M0 28.5H118M0 59H118M0 82.7H118M18 82.7V106M87 82.7V106"/><rect class="o" width="118" height="106"/><text class="n" x="7" y="19">issues</text><text class="t" x="111" y="20">[table]</text>
<use href="#kp" xlink:href="#kp" x="14" y="43.7"/><text class="c" x="27" y="48.5">id</text>
<text x="4" y="76">...</text><text class="e" x="83" y="100">202 rows</text><text class="e" x="113" y="100">3 &gt;</text></g>

<text x="16" y="4433" style="font-size:13.4px">Generated by SchemaSpy</text>
</svg>
</body></html>
